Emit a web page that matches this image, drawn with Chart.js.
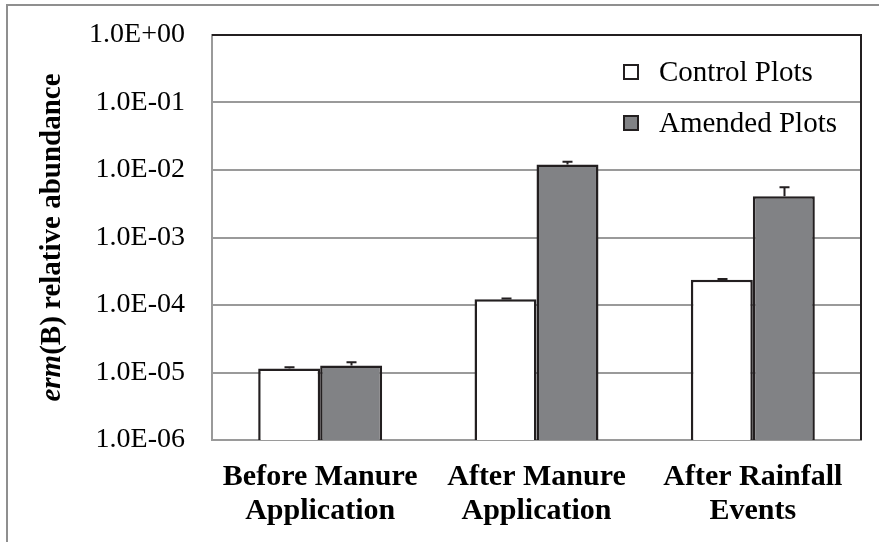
<!DOCTYPE html>
<html>
<head>
<meta charset="utf-8">
<script src="https://cdn.jsdelivr.net/npm/chart.js@4/dist/chart.umd.min.js"></script>
<style>
  html, body { margin: 0; padding: 0; background: #fff; }
  #wrap { width: 879px; height: 542px; position: relative; }
</style>
</head>
<body>
<div id="wrap"><canvas id="c" width="879" height="542"></canvas></div>
<script>
// Sampling periods (multi-line category labels)
const categories = [
  ['Before Manure', 'Application'],
  ['After Manure', 'Application'],
  ['After Rainfall', 'Events']
];
const seriesNames = ['Control Plots', 'Amended Plots'];

// erm(B) relative abundance (mean) per period
const controlValues = [1.15e-5, 1.22e-4, 2.37e-4];
const amendedValues = [1.27e-5, 1.21e-2, 4.09e-3];

// Upper error (standard error) per period
const controlErrors = [0.05e-5, 0.03e-4, 0.05e-4];
const amendedErrors = [0.15e-5, 0.12e-2, 1.47e-3];

// Decade ticks of the log axis and their labels
const yTickValues = [1e-6, 1e-5, 1e-4, 1e-3, 1e-2, 1e-1, 1];
const yTickLabels = ['1.0E-06', '1.0E-05', '1.0E-04', '1.0E-03', '1.0E-02', '1.0E-01', '1.0E+00'];

const yTitleItalic = 'erm';
const yTitleRest = '(B) relative abundance';

const SERIF = '"Liberation Serif", "Times New Roman", serif';
const INK = '#231f20';

const errorsByDataset = [controlErrors, amendedErrors];

// Frame around the figure (left and top edges)
const framePlugin = {
  id: 'frame',
  beforeDraw(chart) {
    const ctx = chart.ctx;
    ctx.save();
    ctx.strokeStyle = '#8f8f8f';
    ctx.lineWidth = 2;
    ctx.beginPath();
    ctx.moveTo(7, 542);
    ctx.lineTo(7, 5);
    ctx.lineTo(879, 5);
    ctx.stroke();
    ctx.restore();
  }
};

// Upper error bars with caps
const errorBarPlugin = {
  id: 'errorBars',
  afterDatasetsDraw(chart) {
    const ctx = chart.ctx;
    const yScale = chart.scales.y;
    ctx.save();
    ctx.strokeStyle = INK;
    ctx.lineWidth = 2;
    chart.data.datasets.forEach((ds, di) => {
      const meta = chart.getDatasetMeta(di);
      meta.data.forEach((bar, i) => {
        const top = yScale.getPixelForValue(ds.data[i] + errorsByDataset[di][i]);
        const x = Math.round(bar.x) + 0.5;
        ctx.beginPath();
        ctx.moveTo(x, bar.y);
        ctx.lineTo(x, top);
        ctx.moveTo(x - 5, top);
        ctx.lineTo(x + 5, top);
        ctx.stroke();
      });
    });
    ctx.restore();
  }
};

// Dark plot-area border on the top and right sides
const plotBorderPlugin = {
  id: 'plotBorder',
  afterDraw(chart) {
    const { left, right, top, bottom } = chart.chartArea;
    const ctx = chart.ctx;
    ctx.save();
    ctx.strokeStyle = INK;
    ctx.lineWidth = 2;
    ctx.beginPath();
    ctx.moveTo(left, top);
    ctx.lineTo(right, top);
    ctx.lineTo(right, bottom);
    ctx.stroke();
    ctx.restore();
  }
};

// Y-axis title with italic gene name
const yTitlePlugin = {
  id: 'yTitle',
  afterDraw(chart) {
    const ctx = chart.ctx;
    const fItal = 'italic bold 29px ' + SERIF;
    const fBold = 'bold 29px ' + SERIF;
    ctx.save();
    ctx.font = fItal;
    const w1 = ctx.measureText(yTitleItalic).width;
    ctx.font = fBold;
    const w2 = ctx.measureText(yTitleRest).width;
    const cy = (chart.chartArea.top + chart.chartArea.bottom) / 2;
    ctx.translate(53, cy);
    ctx.rotate(-Math.PI / 2);
    ctx.fillStyle = '#000';
    ctx.textBaseline = 'middle';
    ctx.textAlign = 'left';
    const start = -(w1 + w2) / 2;
    ctx.font = fItal;
    ctx.fillText(yTitleItalic, start, 0);
    ctx.font = fBold;
    ctx.fillText(yTitleRest, start + w1, 0);
    ctx.restore();
  }
};

// Legend stacked inside the plot area, upper right
const legendPlugin = {
  id: 'insideLegend',
  afterDraw(chart) {
    const ctx = chart.ctx;
    ctx.save();
    ctx.font = '29px ' + SERIF;
    ctx.textBaseline = 'middle';
    ctx.textAlign = 'left';
    chart.data.datasets.forEach((ds, i) => {
      const cy = 72 + i * 51;
      ctx.fillStyle = ds.backgroundColor;
      ctx.fillRect(624, cy - 7, 14, 14);
      ctx.strokeStyle = INK;
      ctx.lineWidth = 2;
      ctx.strokeRect(624, cy - 7, 14, 14);
      ctx.fillStyle = '#000';
      ctx.fillText(ds.label, 659, cy + 1);
    });
    ctx.restore();
  }
};

new Chart(document.getElementById('c'), {
  type: 'bar',
  data: {
    labels: categories,
    datasets: [
      {
        label: seriesNames[0],
        data: controlValues,
        backgroundColor: '#ffffff',
        borderColor: INK,
        borderWidth: 2.5
      },
      {
        label: seriesNames[1],
        data: amendedValues,
        backgroundColor: '#818285',
        borderColor: INK,
        borderWidth: 2.5
      }
    ]
  },
  options: {
    responsive: false,
    animation: false,
    events: [],
    layout: { padding: { top: 35, right: 18, bottom: 0, left: 0 } },
    datasets: { bar: { categoryPercentage: 0.573, barPercentage: 1.0 } },
    plugins: {
      legend: { display: false },
      tooltip: { enabled: false },
      title: { display: false }
    },
    scales: {
      x: {
        afterFit(s) { s.height = 102; s.paddingLeft = 0; s.paddingRight = 0; },
        ticks: {
          color: '#000',
          font: { family: SERIF, size: 30, weight: 'bold', lineHeight: 1.13 },
          padding: 20,
          maxRotation: 0,
          autoSkip: false
        },
        grid: { display: false, drawTicks: false },
        border: { color: '#9a9a9a', width: 2 }
      },
      y: {
        type: 'logarithmic',
        min: 1e-6,
        max: 1,
        afterFit(s) { s.width = 212; s.paddingTop = 0; s.paddingBottom = 0; },
        afterBuildTicks(s) { s.ticks = yTickValues.map(v => ({ value: v })); },
        ticks: {
          color: '#000',
          font: { family: SERIF, size: 28 },
          padding: 27,
          autoSkip: false,
          callback(v) {
            const k = yTickValues.findIndex(t => Math.abs(Math.log10(t) - Math.log10(v)) < 1e-6);
            return k >= 0 ? yTickLabels[k] : '';
          }
        },
        grid: { color: '#9a9a9a', lineWidth: 2, drawTicks: false },
        border: { color: '#9a9a9a', width: 2 }
      }
    }
  },
  plugins: [framePlugin, errorBarPlugin, plotBorderPlugin, yTitlePlugin, legendPlugin]
});
</script>
</body>
</html>
